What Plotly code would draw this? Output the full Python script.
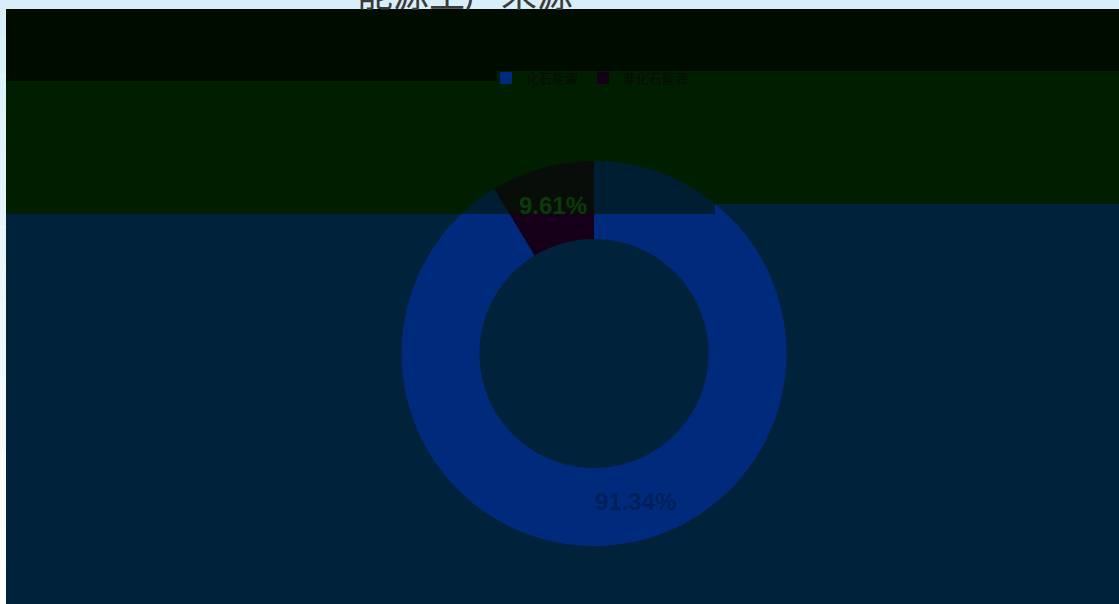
import math
import plotly.graph_objects as go

# ---- data ----
categories = ["化石能源", "非化石能源"]
values = [91.34, 8.66]
label_text = ["91.34%", "9.61%"]
title_text = "能源生产来源"

# ---- styling ----
W, H = 1119, 604
slice_colors = ["#002b7d", "#160019"]
label_colors = ["#002058", "#0a3a08"]

def px(x):
    return x / W

def py(y):
    return 1 - y / H

shapes = []
# page background gradient (light blue -> white)
steps = 16
c0 = (216, 239, 249)
c1 = (255, 255, 255)
for i in range(steps):
    t = i / (steps - 1)
    c = tuple(int(round(c0[k] + (c1[k] - c0[k]) * t)) for k in range(3))
    shapes.append(dict(type="rect", xref="paper", yref="paper", layer="below",
                       x0=0, x1=1, y0=py(H * (i + 1) / steps), y1=py(H * i / steps),
                       fillcolor="rgb(%d,%d,%d)" % c, line_width=0))

def rect(x0, y0, x1, y1, color, layer="below", opacity=1.0):
    shapes.append(dict(type="rect", xref="paper", yref="paper", layer=layer,
                       x0=px(x0), x1=px(x1), y0=py(y1), y1=py(y0),
                       fillcolor=color, line_width=0, opacity=opacity))

# top dark band
rect(6, 9, 497, 81, "#000c00")
rect(497, 9, W, 71, "#000c00")
# green band (base colour, darkened by overlay above)
rect(6, 81, 497, 214, "#002f00")
rect(497, 71, 715, 214, "#002f00")
rect(715, 71, W, 204, "#002f00")
# navy area
rect(6, 214, 715, H, "#00223a")
rect(715, 204, W, H, "#00223a")
# overlay that tints the pie inside the green band
rect(6, 81, 497, 214, "#001500", layer="above", opacity=0.6)
rect(497, 71, 715, 214, "#001500", layer="above", opacity=0.6)
rect(715, 71, W, 204, "#001500", layer="above", opacity=0.6)

cx, cy, r = 594, 353.5, 192.5
hole = 0.595

fig = go.Figure(go.Pie(
    labels=categories,
    values=values,
    textinfo="none",
    hole=hole,
    sort=False,
    direction="clockwise",
    rotation=0,
    marker=dict(colors=slice_colors, line=dict(width=0)),
    domain=dict(x=[px(cx - r), px(cx + r)], y=[py(cy + r), py(cy - r)]),
    hoverinfo="skip",
))

# slice labels, placed at each slice's mid angle, mid ring radius
total = sum(values)
rmid = r * (1 + hole) / 2
annotations = []
cum = 0.0
for v, txt, col in zip(values, label_text, label_colors):
    mid = (cum + v / 2) / total
    cum += v
    th = 2 * math.pi * mid
    lx = cx + rmid * math.sin(th)
    ly = cy - rmid * math.cos(th)
    annotations.append(dict(text="<b>%s</b>" % txt, x=px(lx), y=py(ly), xref="paper", yref="paper",
                            xanchor="center", yanchor="middle", showarrow=False,
                            font=dict(size=24, color=col, family="Liberation Sans, Arial")))

annotations.append(dict(text=title_text, x=px(465), y=py(19), xref="paper", yref="paper",
                        xanchor="center", yanchor="bottom", showarrow=False,
                        font=dict(size=36, color="#3a3a3a", family="Noto Sans CJK SC")))

fig.update_layout(
    width=W, height=H,
    margin=dict(l=0, r=0, t=0, b=0),
    paper_bgcolor="#ffffff",
    plot_bgcolor="rgba(0,0,0,0)",
    shapes=shapes,
    showlegend=True,
    legend=dict(orientation="h", x=px(486), xanchor="left", y=py(63), yanchor="top",
                bgcolor="rgba(0,0,0,0)", font=dict(size=13, color="#0a0a0a",
                family="Noto Sans CJK SC")),
    annotations=annotations,
)

fig.write_html("out.html", config={"displayModeBar": False},
               post_script="document.body.style.margin='0';")
